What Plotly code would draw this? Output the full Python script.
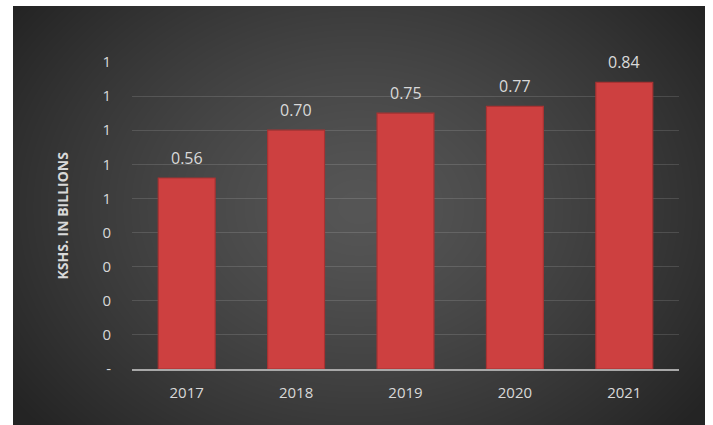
import numpy as np, zlib, struct, base64
import plotly.graph_objects as go

years = ["2017", "2018", "2019", "2020", "2021"]
values = [0.56, 0.70, 0.75, 0.77, 0.84]
value_labels = ["0.56", "0.70", "0.75", "0.77", "0.84"]
y_tickvals = [0, 0.1, 0.2, 0.3, 0.4, 0.5, 0.6, 0.7, 0.8, 0.9]
y_ticktext = ["-", "0", "0", "0", "0", "1", "1", "1", "1", "1"]
y_title = "KSHS. IN BILLIONS"

# radial gradient background image (style only)
W, H = 692, 419
yy, xx = np.mgrid[0:H, 0:W]
cx, cy = W * 0.5, H * 0.48
r = np.sqrt(((xx - cx) / (W * 0.62)) ** 2 + ((yy - cy) / (H * 0.8)) ** 2)
v = 86 - (86 - 36) * np.clip(r, 0, 1) ** 1.3
img = v.astype(np.uint8)
raw = b"".join(b"\x00" + img[i].tobytes() for i in range(H))
def chunk(t, d):
    c = struct.pack(">I", len(d)) + t + d
    return c + struct.pack(">I", zlib.crc32(t + d) & 0xffffffff)
png = (b"\x89PNG\r\n\x1a\n" + chunk(b"IHDR", struct.pack(">IIBBBBB", W, H, 8, 0, 0, 0, 0))
       + chunk(b"IDAT", zlib.compress(raw, 9)) + chunk(b"IEND", b""))
src = "data:image/png;base64," + base64.b64encode(png).decode()

FIG_W, FIG_H = 713, 425
L, R, T, B = 132, 34, 62, 56
pw, ph = FIG_W - L - R, FIG_H - T - B

fig = go.Figure()
fig.add_trace(go.Bar(
    x=years, y=values,
    marker=dict(color="#CD4040", line=dict(color="#A83232", width=1.2)),
    hoverinfo="x+y",
))
for i, (val, lab) in enumerate(zip(values, value_labels)):
    fig.add_annotation(x=i, y=val, text=lab, showarrow=False, yanchor="bottom",
                       yshift=7, font=dict(color="#D9D9D9", size=16, family="Open Sans"))

fig.add_annotation(xref="paper", yref="paper", x=(62 - L) / pw, y=0.5, xanchor="center",
                   text="<b>" + y_title + "</b>",
                   textangle=-90, showarrow=False, font=dict(color="#D9D9D9", size=14, family="Open Sans"))

fig.add_layout_image(dict(
    source=src, xref="paper", yref="paper",
    x=(13 - L) / pw, y=(FIG_H - B - 6) / ph,
    sizex=(705 - 13) / pw, sizey=(425 - 6) / ph,
    xanchor="left", yanchor="top", sizing="stretch", layer="below",
))

fig.update_layout(
    width=FIG_W, height=FIG_H,
    margin=dict(l=L, r=R, t=T, b=B),
    paper_bgcolor="white", plot_bgcolor="rgba(0,0,0,0)",
    bargap=0.48, showlegend=False,
    font=dict(family="Open Sans", color="#D9D9D9", size=15),
)
fig.update_xaxes(type="category", range=[-0.5, len(years) - 0.5], showline=True,
                 linecolor="#A8A8A8", linewidth=2, showgrid=False,
                 ticks="", ticklabelstandoff=9, tickfont=dict(size=15, color="#D9D9D9"))
fig.update_yaxes(range=[0, 0.9], tickvals=y_tickvals, ticktext=y_ticktext,
                 showgrid=True, gridcolor="rgba(255,255,255,0.13)", gridwidth=1,
                 zeroline=False, showline=False, ticks="", ticklabelstandoff=20,
                 tickfont=dict(size=15, color="#D9D9D9"))

fig.write_html("out.html")
